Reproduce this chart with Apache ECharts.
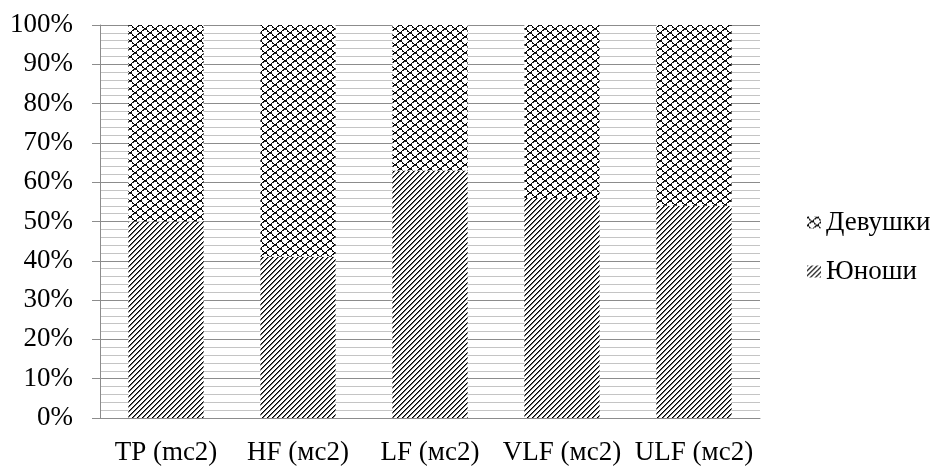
<!DOCTYPE html>
<html><head><meta charset="utf-8">
<script src="https://cdn.jsdelivr.net/npm/echarts@6/dist/echarts.min.js"></script>
<style>html,body{margin:0;padding:0;background:#fff}#c{width:937px;height:466px}</style>
</head><body><div id="c"></div>
<script>
const categories = ['TP (mc2)', 'HF (мс2)', 'LF (мс2)', 'VLF (мс2)', 'ULF (мс2)'];
const boysValues = [50, 41, 63, 56, 54];
const girlsValues = [50, 59, 37, 44, 46];
const seriesNames = ['Юноши', 'Девушки'];

function makeTile(w, h, pixels) {
  const c = document.createElement('canvas');
  c.width = w; c.height = h;
  const ctx = c.getContext('2d');
  ctx.fillStyle = '#fff'; ctx.fillRect(0, 0, w, h);
  pixels.forEach(p => { ctx.fillStyle = p[2]; ctx.fillRect(((p[0] % w) + w) % w, ((p[1] % h) + h) % h, 1, 1); });
  return c;
}
// diagonal stripes (upward)
const diagPx = [];
for (let i = 0; i < 5; i++) {
  diagPx.push([i, 4 - i, '#000']);
  diagPx.push([i, 5 - i, '#666']);
}
const diagTile = makeTile(5, 5, diagPx);
// zigzag weave
const zigPx = [];
const tri = [0, 1, 2, 3, 4, 4, 3, 2, 1, 0];
for (let x = 0; x < 10; x++) {
  const y = tri[x];
  zigPx.push([x, y, '#000']);
  zigPx.push([x + 5, y + 4, '#000']);
  if (x % 2 === 0) {
    zigPx.push([x, y + 1, '#222']);
    zigPx.push([x + 5, y + 5, '#222']);
  }
}
const zigTile = makeTile(10, 8, zigPx);

const chart = echarts.init(document.getElementById('c'), null, {renderer: 'canvas'});
const font = "'Liberation Serif', 'Times New Roman', serif";
chart.setOption({
  animation: false,
  textStyle: {fontFamily: font},
  grid: {left: 100, right: 177, top: 25, bottom: 48},
  legend: {
    orient: 'vertical', left: 802, top: 204, itemGap: 22,
    itemWidth: 14, itemHeight: 12, icon: 'rect',
    data: [seriesNames[1], seriesNames[0]],
    textStyle: {fontFamily: font, fontSize: 27, color: '#000'}
  },
  xAxis: {
    type: 'category', data: categories,
    axisLine: {lineStyle: {color: '#8c8c8c'}},
    axisTick: {show: false},
    axisLabel: {fontFamily: font, fontSize: 27, color: '#000', margin: 21, interval: 0}
  },
  yAxis: {
    type: 'value', min: 0, max: 100, interval: 10,
    axisLine: {show: true, lineStyle: {color: '#8c8c8c'}},
    axisTick: {show: true, length: 8, lineStyle: {color: '#8c8c8c'}},
    axisLabel: {fontFamily: font, fontSize: 27, color: '#000', margin: 27, formatter: '{value}%'},
    splitLine: {show: true, lineStyle: {color: '#8c8c8c'}},
    minorTick: {show: false, splitNumber: 5},
    minorSplitLine: {show: true, lineStyle: {color: '#c4c4c4'}}
  },
  series: [
    {name: seriesNames[0], type: 'bar', stack: 's', barWidth: '57%', data: boysValues,
     itemStyle: {color: {image: diagTile, repeat: 'repeat'}}},
    {name: seriesNames[1], type: 'bar', stack: 's', barWidth: '57%', data: girlsValues,
     itemStyle: {color: {image: zigTile, repeat: 'repeat'}}}
  ]
});
</script></body></html>
